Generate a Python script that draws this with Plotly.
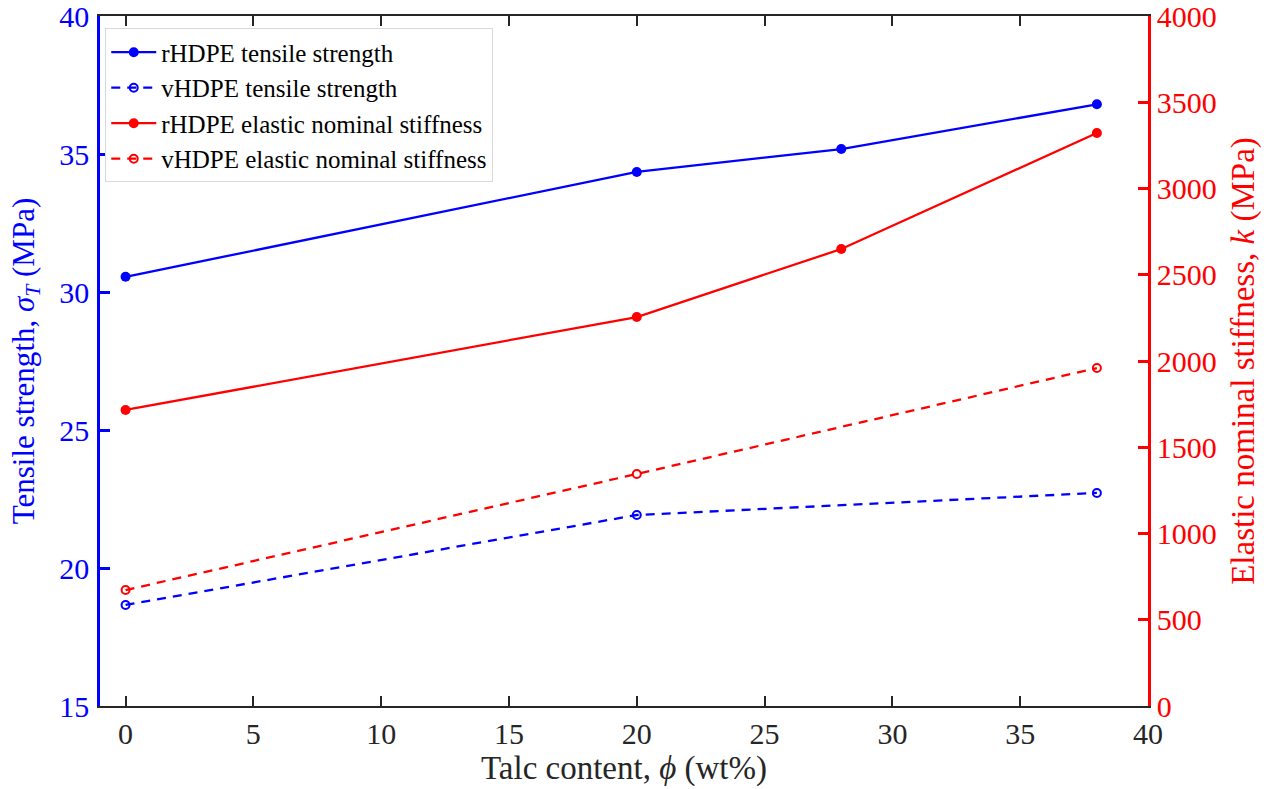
import plotly.graph_objects as go

talc = [0, 20, 28, 38]
talc_v = [0, 20, 38]
r_tensile = [30.55, 34.35, 35.18, 36.8]
v_tensile = [18.66, 21.92, 22.72]
r_stiff = [1716, 2255, 2649, 3322]
v_stiff = [672, 1345, 1959]

FONT = "Times New Roman"
BLUE = "#0000ff"
RED = "#ff0000"
DASH = "9px,7px"

fig = go.Figure()
fig.add_trace(go.Scatter(x=talc, y=r_tensile, name="rHDPE tensile strength", mode="lines+markers",
                         line=dict(color=BLUE, width=2.3), marker=dict(symbol="circle", size=10, color=BLUE)))
fig.add_trace(go.Scatter(x=talc_v, y=v_tensile, name="vHDPE tensile strength", mode="lines+markers",
                         line=dict(color=BLUE, width=2.3, dash=DASH),
                         marker=dict(symbol="circle-open", size=8, color=BLUE, line=dict(width=2))))
fig.add_trace(go.Scatter(x=talc, y=r_stiff, name="rHDPE elastic nominal stiffness", mode="lines+markers", yaxis="y2",
                         line=dict(color=RED, width=2.3), marker=dict(symbol="circle", size=10, color=RED)))
fig.add_trace(go.Scatter(x=talc_v, y=v_stiff, name="vHDPE elastic nominal stiffness", mode="lines+markers", yaxis="y2",
                         line=dict(color=RED, width=2.3, dash=DASH),
                         marker=dict(symbol="circle-open", size=8, color=RED, line=dict(width=2))))

fig.update_layout(
    width=1266, height=789,
    margin=dict(l=100, r=118, t=16, b=83, autoexpand=False),
    paper_bgcolor="white", plot_bgcolor="white",
    font=dict(family=FONT, size=26, color="#262626"),
    showlegend=True,
    legend=dict(x=0.005, y=0.982, xanchor="left", yanchor="top", itemwidth=45,
                bgcolor="white", bordercolor="#d9d9d9", borderwidth=1,
                font=dict(family=FONT, size=25, color="black"), tracegroupgap=0),
    xaxis=dict(range=[-1, 40], tickvals=[0, 5, 10, 15, 20, 25, 30, 35, 40], automargin=False,
               showline=True, linecolor="#262626", linewidth=2, mirror="ticks",
               ticks="inside", ticklen=10, tickwidth=2, tickcolor="#262626",
               ticklabeloverflow="allow",
               showgrid=False, zeroline=False,
               tickfont=dict(family=FONT, size=30, color="#262626"),
               title=dict(text="Talc content, <i>ϕ</i> (wt%)", font=dict(family=FONT, size=33, color="#262626"), standoff=6)),
    yaxis=dict(range=[15, 40], tickvals=[15, 20, 25, 30, 35, 40], automargin=False,
               showline=True, linecolor=BLUE, linewidth=2.5, mirror=False,
               ticks="inside", ticklen=10, tickwidth=2.5, tickcolor=BLUE, ticklabelstandoff=2,
               ticklabeloverflow="allow",
               showgrid=False, zeroline=False,
               tickfont=dict(family=FONT, size=30, color=BLUE),
               title=dict(text="Tensile strength, <i>σ</i><sub><i>T</i></sub> (MPa)", font=dict(family=FONT, size=31, color=BLUE), standoff=16)),
    yaxis2=dict(range=[0, 4000], tickvals=[0, 500, 1000, 1500, 2000, 2500, 3000, 3500, 4000],
                overlaying="y", side="right", anchor="x", automargin=False,
                showline=True, linecolor=RED, linewidth=2.5,
                ticks="inside", ticklen=10, tickwidth=2.5, tickcolor=RED,
                ticklabeloverflow="allow",
                showgrid=False, zeroline=False,
                tickfont=dict(family=FONT, size=30, color=RED),
                title=dict(text="Elastic nominal stiffness, <i>k</i> (MPa)", font=dict(family=FONT, size=33, color=RED), standoff=16)),
)

fig.write_html("out.html")
